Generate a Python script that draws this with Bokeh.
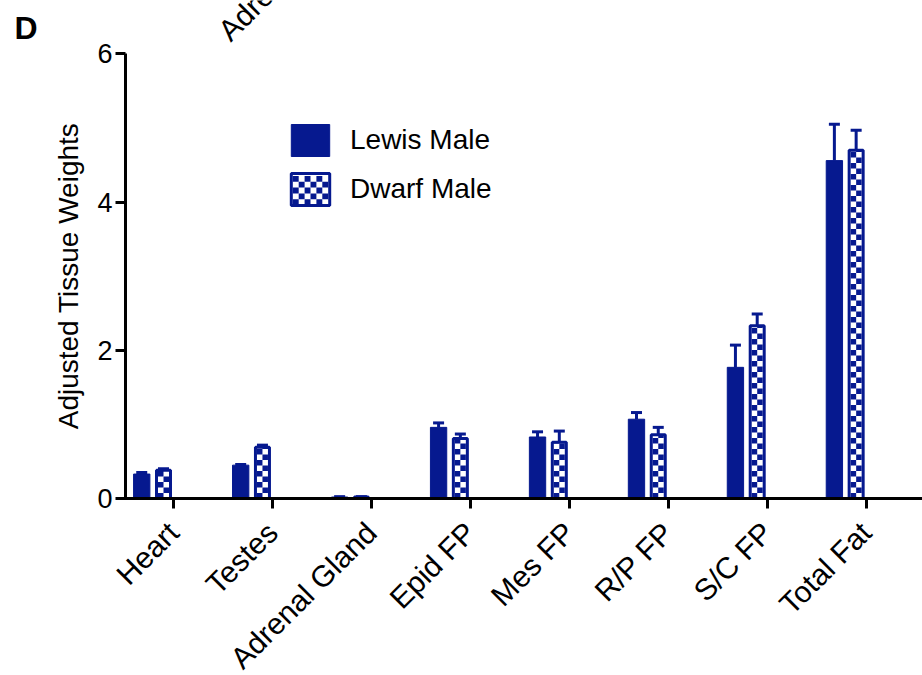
import numpy as np
from math import pi
from bokeh.plotting import figure
from bokeh.models import (ColumnDataSource, Whisker, TeeHead, FixedTicker, Legend,
                          LegendItem, Label)
from bokeh.embed import file_html
from bokeh.resources import INLINE

# ---- data ----
tissues = ["Heart", "Testes", "Adrenal Gland", "Epid FP", "Mes FP", "R/P FP", "S/C FP", "Total Fat"]
lewis_mean = [0.33, 0.45, 0.02, 0.96, 0.83, 1.07, 1.77, 4.56]
lewis_err = [0.02, 0.01, 0.005, 0.06, 0.07, 0.09, 0.30, 0.49]
dwarf_mean = [0.38, 0.69, 0.02, 0.81, 0.76, 0.86, 2.33, 4.70]
dwarf_err = [0.02, 0.03, 0.005, 0.06, 0.15, 0.10, 0.16, 0.27]
y_ticks = [0, 2, 4, 6]
series_names = ["Lewis Male", "Dwarf Male"]
panel_letter = "D"
clipped_label = "Adrenal Gland"   # fragment of the neighbouring panel's label

NAVY = "#06198F"
FONT = "Liberation Sans"

# ---- layout ----
W, H = 922, 675
PX_X, PX_Y = 98.95, 74.1          # pixels per data unit
X0 = -172.9 / PX_X                # first category tick lands at 173 px
X1 = X0 + W / PX_X
Y1 = 498 / PX_Y                   # zero line lands at 498 px
Y0 = Y1 - H / PX_Y
CELL = 5.5                        # checker cell size in pixels

idx = np.arange(len(tissues))
lewis_x = idx - 0.32
dwarf_x = idx - 0.10
lewis_src = ColumnDataSource(dict(x=lewis_x, top=lewis_mean,
                                  upper=np.array(lewis_mean) + np.array(lewis_err)))
dwarf_src = ColumnDataSource(dict(x=dwarf_x, top=dwarf_mean,
                                  upper=np.array(dwarf_mean) + np.array(dwarf_err)))

p = figure(width=W, height=H, x_range=(X0, X1), y_range=(Y0, Y1),
           output_backend="svg", toolbar_location=None,
           min_border_left=0, min_border_right=0, min_border_top=0, min_border_bottom=0)
p.grid.visible = False
p.outline_line_color = None
p.background_fill_color = "white"

# Lewis: solid bars
r1 = p.vbar(x="x", top="top", bottom=0, width=0.165, source=lewis_src,
            fill_color=NAVY, line_color=NAVY, line_width=1)

# Dwarf: white bars with a navy checker pattern and a navy outline
DW = 14 / PX_X
r2_fill = p.vbar(x="x", top="top", bottom=0, width=DW, source=dwarf_src,
                 fill_color="white", line_color=None)
cw, ch = CELL / PX_X, CELL / PX_Y
cl, cr, cb, ct = [], [], [], []
for xc, top in zip(dwarf_x, dwarf_mean):
    n_rows = int(np.ceil(top / ch))
    for r in range(n_rows):
        for c in range(2):
            if (r + c) % 2 == 0:
                cl.append(xc - cw + c * cw)
                cr.append(xc + c * cw)
                cb.append(r * ch)
                ct.append(min((r + 1) * ch, top))

# checker of the legend swatch (screen layout of the legend, converted to data units)
LEG_X, LEG_Y = 286, 466            # legend location from frame bottom-left
SW_L, SW_R, SW_T, SW_B = 290.8 + 1.5, 329.2 - 1.5, 174 + 1.5, 206 - 1.5
ncol = int(round((SW_R - SW_L) / 5.8))
nrow = int(round((SW_B - SW_T) / 5.8))
sw_cw = (SW_R - SW_L) / ncol
sw_ch = (SW_B - SW_T) / nrow
for r in range(nrow):
    for c in range(ncol):
        if (r + c) % 2 == 0:
            sx0 = SW_L + c * sw_cw
            sy0 = SW_T + r * sw_ch
            cl.append(X0 + sx0 / PX_X)
            cr.append(X0 + (sx0 + sw_cw) / PX_X)
            ct.append(Y1 - sy0 / PX_Y)
            cb.append(Y1 - (sy0 + sw_ch) / PX_Y)

p.quad(left=cl, right=cr, bottom=cb, top=ct, fill_color=NAVY, line_color=None)
r2 = p.vbar(x="x", top="top", bottom=0, width=DW, source=dwarf_src,
            fill_color=None, line_color=NAVY, line_width=3)

for src in (lewis_src, dwarf_src):
    p.add_layout(Whisker(source=src, base="x", lower="top", upper="upper", dimension="height",
                         line_color=NAVY, line_width=3, lower_head=None,
                         upper_head=TeeHead(size=11, line_color=NAVY, line_width=3)))

# axes (drawn at fixed data locations inside the frame)
p.xaxis.ticker = FixedTicker(ticks=list(idx))
p.xaxis.major_label_overrides = {int(i): t for i, t in zip(idx, tissues)}
p.xaxis.major_label_orientation = pi / 4
p.xaxis.bounds = (-0.55, X1)
p.xaxis.fixed_location = 0
p.yaxis.ticker = FixedTicker(ticks=y_ticks)
p.yaxis.bounds = (0, 6)
p.yaxis.fixed_location = -0.485
for ax in (p.xaxis, p.yaxis):
    ax.axis_line_width = 3
    ax.axis_line_color = "black"
    ax.major_tick_line_width = 3
    ax.major_tick_line_color = "black"
    ax.major_tick_out = 10
    ax.major_tick_in = 0
    ax.minor_tick_line_color = None
    ax.major_label_text_font = FONT
    ax.major_label_text_color = "black"
p.xaxis.major_label_text_font_size = "30px"
p.yaxis.major_label_text_font_size = "27px"
p.xaxis.major_label_standoff = 19
p.yaxis.major_label_standoff = 3
p.yaxis.axis_label = "Adjusted Tissue Weights"
p.yaxis.axis_label_text_font = FONT
p.yaxis.axis_label_text_font_size = "28px"
p.yaxis.axis_label_text_font_style = "normal"
p.yaxis.axis_label_text_color = "black"
p.yaxis.axis_label_standoff = 10

legend = Legend(items=[LegendItem(label=series_names[0], renderers=[r1]),
                       LegendItem(label=series_names[1], renderers=[r2])],
                location=(LEG_X, LEG_Y), glyph_width=48, glyph_height=40, spacing=9,
                label_standoff=16, label_text_font=FONT, label_text_font_size="28px",
                label_text_color="black",
                label_height=40, padding=0, margin=0, border_line_color=None,
                background_fill_alpha=0)
p.add_layout(legend)

p.add_layout(Label(x=X0 + 14 / PX_X, y=Y1 - 9 / PX_Y, text=panel_letter, text_font=FONT,
                   text_font_size="32px", text_font_style="bold", text_color="black",
                   text_baseline="top"))
p.add_layout(Label(x=0.505, y=6.25, text=clipped_label, angle=pi / 4, text_font=FONT,
                   text_font_size="30px", text_color="black", text_baseline="alphabetic",
                   text_align="left"))

open("out.html", "w").write(file_html(p, INLINE))
